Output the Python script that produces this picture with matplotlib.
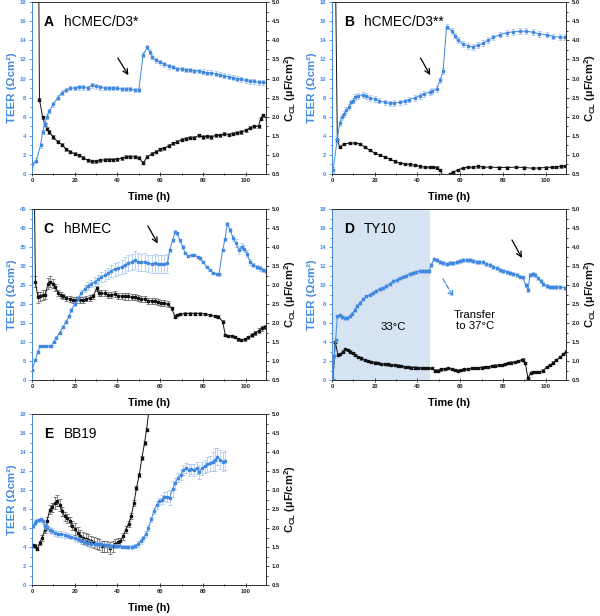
import matplotlib
matplotlib.use("Agg")
import matplotlib.pyplot as plt
import numpy as np

plt.rcParams['font.family'] = ['Liberation Sans', 'DejaVu Sans']
plt.rcParams['mathtext.fontset'] = 'custom'
plt.rcParams['mathtext.rm'] = 'Liberation Sans'
plt.rcParams['mathtext.bf'] = 'Liberation Sans:bold'

BLUE = '#4189e0'
BLUE_ERR = '#9fc2ee'
BLACK = '#111111'
BLACK_ERR = '#555555'

# ---- panel A: hCMEC/D3*
tA_teer = [0, 2, 4, 5, 6, 7, 8, 10, 12, 14, 16, 18, 20, 22, 24, 26, 28, 30, 32, 34, 36, 38, 40, 42, 44, 46, 48, 50,
           52, 54, 55, 56, 58, 60, 62, 64, 66, 68, 70, 72, 74, 76, 78, 80, 82, 84, 86, 88, 90, 92, 94, 96, 98, 100,
           102, 104, 106, 108, 110]
teerA = [1.0, 1.4, 3.0, 4.4, 5.2, 6.0, 6.6, 7.3, 8.0, 8.5, 8.8, 9.0, 9.0, 9.1, 9.1, 9.0, 9.3, 9.2, 9.1, 9.0, 9.0, 9.0,
         9.0, 8.9, 8.9, 8.9, 8.8, 8.8, 12.5, 13.3, 12.8, 12.3, 11.9, 11.7, 11.5, 11.3, 11.2, 11.0, 11.0, 10.9, 10.9,
         10.8, 10.8, 10.7, 10.6, 10.6, 10.5, 10.4, 10.3, 10.2, 10.1, 10.0, 9.9, 9.8, 9.7, 9.7, 9.6, 9.6, 9.5]
tA_cap = [2.5, 3.5, 5, 6, 7, 8, 10, 12, 14, 16, 18, 20, 22, 24, 26, 28, 30, 32, 34, 36, 38, 40, 42, 44, 46, 48, 50,
          52, 54, 56, 58, 60, 62, 64, 66, 68, 70, 72, 74, 76, 78, 80, 82, 84, 86, 88, 90, 92, 94, 96, 98, 100, 102,
          104, 106, 107, 108, 110]
capA = [12.0, 2.45, 1.99, 1.80, 1.69, 1.60, 1.47, 1.34, 1.27, 1.15, 1.08, 1.03, 0.99, 0.93, 0.86, 0.83, 0.83, 0.86,
        0.87, 0.88, 0.88, 0.89, 0.91, 0.95, 0.95, 0.95, 0.93, 0.79, 0.95, 1.03, 1.08, 1.15, 1.18, 1.24, 1.30, 1.34,
        1.40, 1.43, 1.45, 1.45, 1.51, 1.47, 1.49, 1.47, 1.51, 1.51, 1.56, 1.53, 1.56, 1.58, 1.60, 1.64, 1.71, 1.75,
        1.75, 1.95, 2.04, 1.95]

# ---- panel B: hCMEC/D3**
tB_teer = [0.5, 2.5, 3.6, 4.5, 5.6, 6.7, 7.8, 8.8, 9.9, 11, 12, 14.5, 16, 18, 20, 22, 24.7, 27, 29, 32, 34, 36, 39,
           41, 43, 46, 47, 49, 50.5, 52, 53.6, 56, 57.5, 59, 61.4, 63.8, 66, 68.4, 70.8, 73, 75.5, 78.6, 81.7, 84.8,
           88, 91, 94, 97, 100.5, 103.6, 106.7, 109]
teerB = [0.4, 3.7, 5.3, 6.0, 6.3, 6.7, 7.0, 7.5, 7.7, 8.1, 8.2, 8.3, 8.2, 7.95, 7.85, 7.7, 7.5, 7.4, 7.45, 7.5, 7.6,
         7.8, 8.0, 8.2, 8.4, 8.6, 8.7, 8.9, 9.8, 10.8, 15.45, 15.0, 14.5, 14.0, 13.6, 13.4, 13.3, 13.5, 13.7, 14.0,
         14.3, 14.6, 14.8, 14.9, 14.95, 14.95, 14.85, 14.7, 14.6, 14.4, 14.35, 14.35]
tB_cap = [1, 2.5, 3.6, 5.6, 8.3, 10.6, 13, 15.3, 17.7, 20, 22.3, 24.7, 27, 29.4, 31.7, 34, 36.4, 38.8, 41, 43.4,
          45.8, 47.3, 49.2, 50.5, 52, 54, 55, 56.7, 59, 61.4, 63.8, 66, 68.4, 70.8, 74, 78, 82, 86, 90, 94, 97, 100,
          103, 105, 107, 109]
capB = [9.0, 1.38, 1.21, 1.29, 1.31, 1.31, 1.29, 1.21, 1.12, 1.05, 0.99, 0.95, 0.89, 0.83, 0.79, 0.77, 0.75, 0.73,
        0.70, 0.68, 0.68, 0.68, 0.67, 0.60, 0.45, 0.40, 0.50, 0.55, 0.61, 0.66, 0.68, 0.68, 0.70, 0.68, 0.68, 0.67,
        0.67, 0.68, 0.67, 0.65, 0.66, 0.67, 0.68, 0.68, 0.70, 0.71]

# ---- panel C: hBMEC
tC_teer = [0, 1.6, 2.8, 3.9, 5.2, 6.7, 8.3, 9, 10.3, 11.4, 13, 14.5, 16, 17.3, 18.4, 20, 21.6, 23, 24.7, 26.2, 27.8,
           29.4, 31, 32.5, 34, 35.6, 37.2, 38.8, 40.3, 41.9, 43.4, 45, 46.6, 48, 49.7, 51, 52.8, 54.4, 56, 57.5, 59,
           60.6, 62, 63.4, 64.5, 65.8, 67, 68, 69.2, 70.5, 71.6, 73, 74.7, 76, 77.5, 78.6, 80, 81.7, 83.3, 84.8, 86.4,
           87.5, 89.2, 90.3, 91.4, 92.7, 94.2, 95.5, 96.7, 98.1, 99.4, 100.6, 102, 103.6, 105.2, 106.7, 108.3, 109.4]
teerC = [2.6, 5.3, 7.5, 9.0, 9.0, 9.0, 9.0, 9.0, 10.1, 11.2, 12.5, 14.0, 15.4, 16.8, 18.4, 20.0, 21.5, 22.8, 24.0,
         24.8, 25.4, 25.9, 26.5, 27.2, 27.6, 28.1, 28.8, 29.2, 29.4, 29.8, 30.3, 30.7, 31.1, 31.6, 31.1, 31.0, 31.1,
         30.7, 30.6, 30.7, 30.6, 30.6, 30.5, 30.7, 34.2, 36.8, 39.0, 38.6, 36.8, 35.1, 33.5, 32.6, 32.9, 33.0, 32.4,
         32.0, 31.1, 29.8, 28.9, 28.2, 27.9, 27.8, 34.2, 37.0, 41.2, 39.5, 37.3, 36.0, 34.2, 35.1, 34.6, 33.3, 31.1,
         30.3, 29.8, 29.4, 29.0, 28.8]
errC_teer = [0.2, 0.3, 0.3, 0.3, 0.3, 0.3, 0.3, 0.3, 0.3, 0.3,
             0.3, 0.3, 0.4, 0.4, 0.5, 0.6, 0.7, 0.8, 0.9, 1.0,
             1.0, 1.1, 1.2, 1.3, 1.4, 1.5, 1.6, 1.7, 1.8, 1.9,
             2.0, 2.1, 2.2, 2.3, 2.3, 2.3, 2.3, 2.3, 2.4, 2.4,
             2.4, 2.4, 2.4, 2.4, 0.4, 0.4, 0.4, 0.4, 0.4, 0.4,
             0.3, 0.3, 0.3, 0.3, 0.3, 0.3, 0.3, 0.3, 0.3, 0.3,
             0.3, 0.3, 0.3, 0.4, 0.5, 0.6, 0.8, 1.0, 1.0, 1.0,
             0.9, 0.8, 0.7, 0.6, 0.6, 0.6, 0.5, 0.5]
tC_cap = [1, 1.6, 2.8, 3.9, 5.2, 6.3, 7.5, 8.6, 9.8, 11, 12.2, 13.4, 14.5, 16, 17.7, 19.2, 20.8, 22.3, 24, 25.5, 27,
          28.6, 30.2, 31.2, 32.5, 34, 35.6, 37.2, 38.8, 40.3, 41.9, 43.4, 45, 46.6, 48, 49.7, 51.2, 52.8, 54.4, 56,
          57.5, 59, 60.6, 62, 63.8, 65.3, 67, 68, 69.2, 71.6, 74, 76.3, 78.6, 81, 83.3, 85.6, 87.2, 89.2, 90.5, 91.9,
          93.4, 95, 96.6, 98, 99.7, 101.2, 102.8, 104.4, 106, 107.5, 109]
capC = [6.0, 3.09, 2.68, 2.70, 2.74, 2.75, 3.04, 3.09, 3.04, 2.94, 2.80, 2.74, 2.70, 2.65, 2.63, 2.61, 2.61, 2.61,
        2.61, 2.64, 2.66, 2.70, 2.91, 2.78, 2.78, 2.78, 2.75, 2.75, 2.76, 2.72, 2.71, 2.70, 2.70, 2.68, 2.68, 2.65,
        2.64, 2.63, 2.59, 2.59, 2.57, 2.55, 2.54, 2.52, 2.49, 2.39, 2.17, 2.21, 2.23, 2.25, 2.25, 2.25, 2.25, 2.24,
        2.21, 2.18, 2.17, 2.04, 1.68, 1.66, 1.66, 1.63, 1.57, 1.56, 1.57, 1.63, 1.68, 1.74, 1.80, 1.86, 1.90]
errC_cap = [0.0, 0.15, 0.15, 0.12, 0.12, 0.12, 0.15, 0.15, 0.12, 0.1,
            0.08, 0.07, 0.07, 0.07, 0.07, 0.07, 0.07, 0.07, 0.07, 0.07,
            0.07, 0.07, 0.07, 0.08, 0.08, 0.08, 0.08, 0.08, 0.08, 0.08,
            0.08, 0.08, 0.08, 0.08, 0.08, 0.08, 0.08, 0.08, 0.08, 0.08,
            0.08, 0.08, 0.08, 0.08, 0.08, 0.04, 0.03, 0.03, 0.03, 0.03,
            0.03, 0.03, 0.03, 0.03, 0.03, 0.03, 0.03, 0.03, 0.03, 0.03,
            0.03, 0.03, 0.03, 0.03, 0.03, 0.04, 0.05, 0.05, 0.06, 0.06,
            0.06]

# ---- panel D: TY10
tD_teer = [0.5, 1, 1.7, 2.5, 3.6, 4.7, 6, 7.2, 8.3, 9.5, 10.6, 11.7, 13, 14.5, 16, 17.7, 19.2, 20.8, 22.3, 24, 25.5,
           27, 28.6, 30.2, 31.7, 33.3, 34.8, 36.4, 38, 39.5, 41, 42.7, 44, 45.5, 46.3, 47.8, 49, 50.5, 52, 53.6, 55,
           56.7, 58.3, 59.8, 61.4, 63, 64.5, 66, 67.7, 69, 70.8, 72.3, 74, 75.5, 77, 78.6, 80, 81.7, 83.3, 84.8, 86.4,
           88, 89.2, 90.8, 91.7, 92.7, 94, 95.2, 96.4, 97.7, 98.9, 100.5, 102, 103.6, 105, 106.7, 109]
teerD = [0.0, 2.5, 4.2, 6.7, 6.8, 6.6, 6.5, 6.5, 6.7, 7.0, 7.4, 7.8, 8.1, 8.5, 8.8, 9.0, 9.2, 9.4, 9.6, 9.7, 9.9,
         10.1, 10.4, 10.5, 10.7, 10.9, 11.0, 11.2, 11.3, 11.4, 11.5, 11.5, 11.5, 11.5, 12.1, 12.7, 12.6, 12.4, 12.3,
         12.2, 12.3, 12.3, 12.4, 12.5, 12.6, 12.6, 12.6, 12.5, 12.4, 12.4, 12.4, 12.2, 12.1, 11.9, 11.8, 11.6, 11.5,
         11.4, 11.3, 11.2, 11.1, 10.9, 10.8, 10.0, 9.5, 11.1, 11.2, 11.1, 10.7, 10.4, 10.1, 9.9, 9.8, 9.8, 9.8, 9.8,
         9.7]
tD_cap = [0.5, 1.5, 2.8, 3.9, 5.2, 6.3, 7.5, 8.6, 9.8, 11, 12.2, 13.8, 15.3, 16.9, 18.4, 20, 21.6, 23, 24.7, 26.2,
          27.8, 29.4, 31, 32.5, 34, 35.6, 37.2, 38.8, 40.3, 41.9, 43.4, 45, 46.6, 48, 49.7, 51, 52.8, 54.4, 56, 57.5,
          59, 60.6, 62, 63.8, 65.3, 67, 68.4, 70, 71.6, 73, 74.7, 76.3, 78, 79.4, 81, 82.5, 84, 85.6, 87.2, 88.8,
          89.5, 90.5, 91.7, 93, 94, 95.6, 97, 98.9, 100.5, 102, 103.6, 105, 106.7, 108.3, 109.4]
capD = [0.5, 1.51, 1.16, 1.18, 1.25, 1.31, 1.29, 1.25, 1.22, 1.16, 1.11, 1.07, 1.03, 1.00, 0.97, 0.96, 0.94, 0.93,
        0.92, 0.91, 0.90, 0.89, 0.88, 0.87, 0.85, 0.84, 0.83, 0.83, 0.82, 0.82, 0.82, 0.81, 0.81, 0.75, 0.75, 0.78,
        0.80, 0.81, 0.79, 0.76, 0.75, 0.76, 0.78, 0.79, 0.81, 0.81, 0.82, 0.83, 0.84, 0.85, 0.87, 0.88, 0.89, 0.90,
        0.92, 0.94, 0.96, 0.97, 1.00, 1.03, 1.04, 0.94, 0.55, 0.69, 0.72, 0.72, 0.72, 0.75, 0.85, 0.89, 0.96, 1.03,
        1.10, 1.18, 1.25]

# ---- panel E: BB19
tE_teer = [0.5, 1.2, 2, 3.1, 4.4, 5.2, 6, 7, 8.3, 9.5, 10.8, 12.2, 13.8, 15.3, 16.9, 18.4, 20, 21.6, 23, 24.7, 26.2,
           27.8, 29.4, 31, 32.5, 34, 35.6, 37.2, 38.8, 40.3, 41.9, 43.4, 45, 46.6, 48, 49.7, 50.8, 52, 53.3, 54.5,
           55.8, 57, 58.3, 59.5, 60.8, 62, 63.3, 64.5, 65.8, 67, 68.3, 69.5, 70.8, 72, 73.3, 74.5, 75.8, 77, 78.3,
           79.5, 80.8, 82, 83.3, 84.5, 85.8, 86.7, 88, 89.2, 90.2]
teerE = [6.2, 6.5, 6.7, 6.8, 6.9, 6.7, 6.2, 6.0, 5.8, 5.7, 5.5, 5.4, 5.4, 5.3, 5.2, 5.1, 4.9, 4.8, 4.6, 4.5, 4.4, 4.3,
         4.3, 4.3, 4.3, 4.2, 4.2, 4.1, 4.1, 4.1, 4.05, 4.05, 4.0, 4.0, 4.1, 4.3, 4.6, 4.9, 5.4, 6.0, 6.9, 7.8, 8.4,
         8.8, 9.0, 9.3, 9.3, 9.2, 10.1, 10.7, 11.3, 11.6, 12.1, 12.3, 12.1, 12.2, 12.1, 12.3, 11.9, 12.3, 12.5, 12.7,
         12.8, 13.0, 13.2, 13.5, 13.2, 13.0, 13.1]
errE_teer = [0.2, 0.2, 0.2, 0.2, 0.2, 0.3, 0.3, 0.3, 0.3, 0.3,
             0.3, 0.3, 0.3, 0.3, 0.3, 0.3, 0.3, 0.3, 0.3, 0.3,
             0.3, 0.3, 0.3, 0.2, 0.2, 0.2, 0.2, 0.2, 0.2, 0.2,
             0.2, 0.2, 0.2, 0.2, 0.2, 0.3, 0.3, 0.3, 0.3, 0.3,
             0.3, 0.3, 0.4, 0.4, 0.5, 0.5, 0.6, 0.8, 0.8, 0.6,
             0.5, 0.5, 0.5, 0.5, 0.6, 0.5, 0.6, 0.6, 0.7, 0.7,
             0.7, 0.8, 0.8, 1.0, 1.2, 0.9, 1.0, 1.0, 1.0]
tE_cap = [0.5, 1.6, 2.5, 3.6, 4.7, 6, 7, 8.3, 9.5, 10.6, 11.7, 13, 14.2, 15.3, 16.6, 17.7, 18.9, 20.2, 21.4, 22.7,
          23.9, 25.2, 26.4, 27.7, 28.9, 30.2, 31.4, 32.7, 33.9, 35.2, 36.4, 37.7, 38.9, 40.2, 41.4, 42.7, 43.9, 45.2,
          46.4, 47.7, 48.9, 50.2, 51.4, 52.7, 53.6, 55.2]
capE = [1.54, 1.52, 1.46, 1.61, 1.74, 1.96, 2.18, 2.48, 2.54, 2.66, 2.72, 2.61, 2.44, 2.31, 2.26, 2.18, 2.06, 1.97,
        1.87, 1.80, 1.74, 1.71, 1.68, 1.65, 1.62, 1.59, 1.56, 1.52, 1.52, 1.52, 1.47, 1.52, 1.59, 1.62, 1.65, 1.78,
        1.96, 2.11, 2.31, 2.66, 3.05, 3.40, 3.84, 4.24, 4.59, 5.3]
errE_cap = [0.03, 0.05, 0.05, 0.05, 0.08, 0.1, 0.12, 0.12, 0.12, 0.15,
            0.15, 0.15, 0.12, 0.12, 0.12, 0.12, 0.12, 0.15, 0.15, 0.15,
            0.15, 0.15, 0.15, 0.15, 0.15, 0.15, 0.15, 0.15, 0.15, 0.15,
            0.15, 0.15, 0.12, 0.12, 0.1, 0.1, 0.1, 0.08, 0.08, 0.08,
            0.06, 0.06, 0.05, 0.05, 0.05, 0.05]

fig = plt.figure(figsize=(6, 6.16), dpi=100)


def draw_panel(rect, letter, name, t1, v1, e1, t2, v2, e2, teer_max, teer_step):
    ax = fig.add_axes(rect)
    ax2 = ax.twinx()
    ax2.errorbar(t2, v2, yerr=e2, fmt='s-', color=BLACK, ms=2.0, lw=0.7, ecolor=BLACK_ERR,
                 elinewidth=0.5, capsize=1.3, capthick=0.5)
    ax.errorbar(t1, v1, yerr=e1, fmt='s-', color=BLUE, ms=2.0, lw=0.7, ecolor=BLUE_ERR,
                elinewidth=0.5, capsize=1.3, capthick=0.5)
    ax.set_zorder(ax2.get_zorder() + 1)
    ax.patch.set_visible(False)

    ax.set_xlim(0, 109.5)
    ax.set_ylim(0, teer_max)
    ax2.set_ylim(0.5, 5.0)
    ax.set_xticks([0, 20, 40, 60, 80, 100])
    ax.set_xticks(np.arange(10, 110, 20), minor=True)
    ax.set_yticks(np.arange(0, teer_max + 0.1, teer_step))
    ax.set_yticks(np.arange(teer_step / 2, teer_max, teer_step), minor=True)
    ax2.set_yticks(np.arange(0.5, 5.01, 0.5))
    ax2.set_yticks(np.arange(0.75, 5.0, 0.5), minor=True)
    ax2.yaxis.set_major_formatter(matplotlib.ticker.FormatStrFormatter('%.1f'))

    ax.tick_params(axis='x', which='both', direction='inout', labelsize=4.2, width=0.6, colors='#222222')
    ax.tick_params(axis='x', which='major', length=3, pad=1.5)
    ax.tick_params(axis='x', which='minor', length=2)
    ax.tick_params(axis='y', which='both', direction='out', labelsize=4.2, width=0.6, colors=BLUE)
    ax.tick_params(axis='y', which='major', length=2.5, pad=1.5)
    ax.tick_params(axis='y', which='minor', length=1.2)
    ax2.tick_params(axis='y', which='both', direction='out', labelsize=4.2, width=0.6, colors='#222222')
    ax2.tick_params(axis='y', which='major', length=2.5, pad=1.5)
    ax2.tick_params(axis='y', which='minor', length=1.2)
    for lab in ax.get_xticklabels() + ax.get_yticklabels() + ax2.get_yticklabels():
        lab.set_fontweight('bold')

    for a in (ax, ax2):
        for s in a.spines.values():
            s.set_linewidth(0.7)
            s.set_color('#333333')
        a.spines['left'].set_color(BLUE)
    ax2.spines['left'].set_visible(False)

    ax.set_xlabel('Time (h)', fontsize=7.8, fontweight='bold', labelpad=6)
    ax.set_ylabel('TEER (Ωcm²)', fontsize=8.2, fontweight='bold', color=BLUE, labelpad=2)
    ax2.set_ylabel(r'C$_{\mathbf{CL}}$ (µF/cm$^{\mathbf{2}}$)', fontsize=8.0, fontweight='bold',
                   color=BLACK, labelpad=2)

    ax.text(0.05, 0.885, letter, transform=ax.transAxes, fontsize=10, fontweight='bold', va='center')
    ax.text(0.135, 0.885, name, transform=ax.transAxes, fontsize=9.8, va='center')
    return ax, ax2


arrow = dict(arrowstyle='->', color='black', lw=0.9, mutation_scale=9)

axA, _ = draw_panel([0.0533, 0.7175, 0.39, 0.279], 'A', 'hCMEC/D3*', tA_teer, teerA, 0.25,
                    tA_cap, capA, 0.04, 18, 2)
axA.annotate('', xy=(45.8, 10.1), xytext=(39.5, 12.4), arrowprops=arrow)

axB, _ = draw_panel([0.5533, 0.7175, 0.39, 0.279], 'B', 'hCMEC/D3**', tB_teer, teerB, 0.3,
                    tB_cap, capB, 0.03, 18, 2)
axB.annotate('', xy=(46.6, 10.1), xytext=(40.8, 12.4), arrowprops=arrow)

axC, _ = draw_panel([0.0533, 0.383, 0.39, 0.2776], 'C', 'hBMEC', tC_teer, teerC, errC_teer,
                    tC_cap, capC, errC_cap, 45, 5)
axC.annotate('', xy=(59.5, 35.3), xytext=(53.6, 41.2), arrowprops=arrow)

axD, axD2 = draw_panel([0.5533, 0.383, 0.39, 0.2776], 'D', 'TY10', tD_teer, teerD, 0.2,
                       tD_cap, capD, 0.03, 18, 2)
axD2.axvspan(0.5, 46, color='#d5e3f3', zorder=0, lw=0)
axD.annotate('', xy=(89.5, 12.6), xytext=(83.6, 15.0), arrowprops=arrow)
axD.annotate('', xy=(57.5, 8.5), xytext=(51.3, 10.9),
             arrowprops=dict(arrowstyle='->', color=BLUE, lw=0.9, ls='--', mutation_scale=9))
axD.text(28.6, 5.6, '33°C', fontsize=8.2, ha='center', va='center')
axD.text(67, 6.25, 'Transfer\nto 37°C', fontsize=8.2, ha='center', va='center', linespacing=1.1)

axE, _ = draw_panel([0.0533, 0.0503, 0.39, 0.2776], 'E', 'BB19', tE_teer, teerE, errE_teer,
                    tE_cap, capE, errE_cap, 18, 2)

fig.savefig('out.png', dpi=100)
